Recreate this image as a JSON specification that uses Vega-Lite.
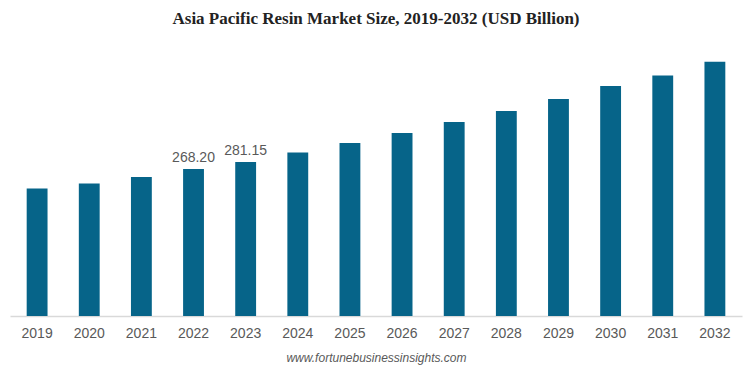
{
  "$schema": "https://vega.github.io/schema/vega-lite/v6.json",
  "width": 732,
  "height": 274,
  "autosize": {"type": "none"},
  "padding": {"left": 10, "top": 42, "right": 3, "bottom": 56},
  "background": "white",
  "config": {"view": {"stroke": null}},
  "title": {
    "text": "Asia Pacific Resin Market Size, 2019-2032 (USD Billion)",
    "font": "Liberation Serif",
    "fontSize": 17,
    "fontWeight": "bold",
    "color": "#222222",
    "anchor": "middle",
    "offset": 14
  },
  "data": {
    "values": [
      {"year": "2019", "value": 232.7, "label": ""},
      {"year": "2020", "value": 241.9, "label": ""},
      {"year": "2021", "value": 253.6, "label": ""},
      {"year": "2022", "value": 268.20, "label": "268.20"},
      {"year": "2023", "value": 281.15, "label": "281.15"},
      {"year": "2024", "value": 298.5, "label": ""},
      {"year": "2025", "value": 315.7, "label": ""},
      {"year": "2026", "value": 334.0, "label": ""},
      {"year": "2027", "value": 354.1, "label": ""},
      {"year": "2028", "value": 374.2, "label": ""},
      {"year": "2029", "value": 396.2, "label": ""},
      {"year": "2030", "value": 419.9, "label": ""},
      {"year": "2031", "value": 438.8, "label": ""},
      {"year": "2032", "value": 463.8, "label": ""}
    ]
  },
  "encoding": {
    "x": {
      "field": "year",
      "type": "ordinal",
      "scale": {"paddingInner": 0.6, "paddingOuter": 0.32},
      "axis": {
        "title": "www.fortunebusinessinsights.com",
        "titleFont": "Liberation Sans",
        "titleFontStyle": "italic",
        "titleFontWeight": "normal",
        "titleFontSize": 12,
        "titleColor": "#595959",
        "titlePadding": 12,
        "labelAngle": 0,
        "labelFont": "Liberation Sans",
        "labelFontSize": 14,
        "labelColor": "#595959",
        "labelPadding": 10,
        "ticks": false,
        "domainColor": "#d9d9d9",
        "domainWidth": 1.5
      }
    },
    "y": {
      "field": "value",
      "type": "quantitative",
      "scale": {"domain": [0, 500], "nice": false},
      "axis": null
    }
  },
  "layer": [
    {"mark": {"type": "bar", "color": "#066489"}},
    {
      "mark": {
        "type": "text",
        "baseline": "bottom",
        "dy": -4,
        "font": "Liberation Sans",
        "fontSize": 14,
        "color": "#595959"
      },
      "encoding": {"text": {"field": "label"}}
    }
  ]
}
